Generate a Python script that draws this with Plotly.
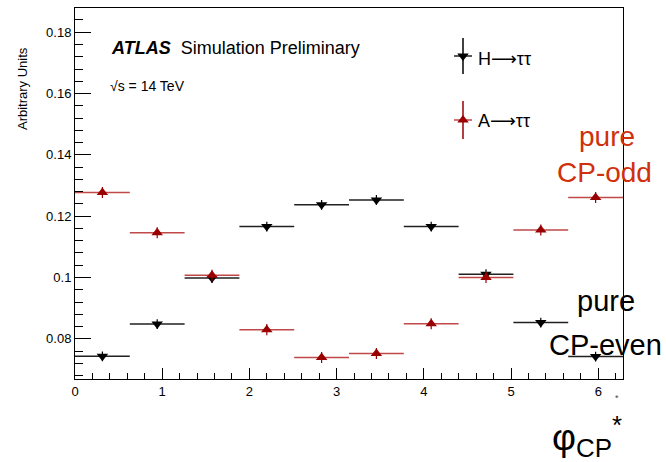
import math
import plotly.graph_objects as go

# phi*_CP binning: 10 equal bins over [0, 2*pi]
n_bins = 10
bin_width = 2 * math.pi / n_bins
bin_centers = [(i + 0.5) * bin_width for i in range(n_bins)]
half_widths = [bin_width / 2] * n_bins

# Normalised distributions (arbitrary units)
h_tautau = [0.0743, 0.0848, 0.0998, 0.1166, 0.1237, 0.1253, 0.1166, 0.1011, 0.0853, 0.0742]
a_tautau = [0.1277, 0.1146, 0.1007, 0.0830, 0.0739, 0.0752, 0.0849, 0.1000, 0.1155, 0.1261]
h_err = [0.0016] * n_bins
a_err = [0.0018] * n_bins

x_ticks = [0, 1, 2, 3, 4, 5, 6]
y_ticks = [0.08, 0.10, 0.12, 0.14, 0.16, 0.18]
y_tick_text = ["0.08", "0.1", "0.12", "0.14", "0.16", "0.18"]

FONT = "Liberation Sans, Arial, Helvetica, sans-serif"
ARROW = '<span style="font-family:DejaVu Sans">\u27f6</span>'
BLACK = "#000000"
DARK_RED = "#9a0000"
LINE_RED = "#c04848"
TEXT_RED = "#d0300c"

W, H = 666, 462
L, R, T, B = 75, 623, 8, 379  # plot frame in pixels


def px(x):
    return (x - L) / (R - L)


def py(y):
    return (B - y) / (B - T)


fig = go.Figure()

fig.add_trace(go.Scatter(
    x=bin_centers, y=h_tautau, mode="markers",
    marker=dict(symbol="triangle-down", size=10, color=BLACK),
    error_x=dict(type="data", array=half_widths, width=0, thickness=1.5, color="#202020"),
    error_y=dict(type="data", array=h_err, width=0, thickness=1.2, color=BLACK),
    showlegend=False,
))
fig.add_trace(go.Scatter(
    x=bin_centers, y=a_tautau, mode="markers",
    marker=dict(symbol="triangle-up", size=10, color=DARK_RED),
    error_x=dict(type="data", array=half_widths, width=0, thickness=1.5, color=LINE_RED),
    error_y=dict(type="data", array=a_err, width=0, thickness=1.2, color=DARK_RED),
    showlegend=False,
))

# Legend entries drawn on a pixel-scaled overlay
legend_x = [463, 463]
legend_y = [56, 120]
fig.add_trace(go.Scatter(
    x=[legend_x[0]], y=[legend_y[0]], xaxis="x2", yaxis="y2", mode="markers",
    marker=dict(symbol="triangle-down", size=10, color=BLACK),
    error_x=dict(type="constant", value=9, width=0, thickness=1.5, color="#202020"),
    error_y=dict(type="constant", value=18, width=0, thickness=1.5, color=BLACK),
    showlegend=False, hoverinfo="skip",
))
fig.add_trace(go.Scatter(
    x=[legend_x[1]], y=[legend_y[1]], xaxis="x2", yaxis="y2", mode="markers",
    marker=dict(symbol="triangle-up", size=10, color=DARK_RED),
    error_x=dict(type="constant", value=9, width=0, thickness=1.5, color=LINE_RED),
    error_y=dict(type="constant", value=19, width=0, thickness=1.5, color=DARK_RED),
    showlegend=False, hoverinfo="skip",
))

annotations = [
    dict(x=px(109), y=py(48), text="<b><i>ATLAS</i></b>  Simulation Preliminary",
         font=dict(size=18, color=BLACK), xanchor="left", yanchor="middle"),
    dict(x=px(108), y=py(86), text="\u221as = 14 TeV",
         font=dict(size=14, color=BLACK), xanchor="left", yanchor="middle"),
    dict(x=px(476), y=py(58), text="H" + ARROW + "\u03c4\u03c4",
         font=dict(size=18, color=BLACK), xanchor="left", yanchor="middle"),
    dict(x=px(476), y=py(121), text="A" + ARROW + "\u03c4\u03c4",
         font=dict(size=18, color=BLACK), xanchor="left", yanchor="middle"),
    dict(x=px(607), y=py(136), text="pure",
         font=dict(size=28, color=TEXT_RED), xanchor="center", yanchor="middle"),
    dict(x=px(604), y=py(172), text="CP-odd",
         font=dict(size=28, color=TEXT_RED), xanchor="center", yanchor="middle"),
    dict(x=px(606), y=py(301), text="pure",
         font=dict(size=29, color=BLACK), xanchor="center", yanchor="middle"),
    dict(x=px(605), y=py(345), text="CP-even",
         font=dict(size=29, color=BLACK), xanchor="center", yanchor="middle"),
    dict(x=px(22), y=py(88), text="Arbitrary Units", textangle=-90,
         font=dict(size=13, color=BLACK), xanchor="center", yanchor="middle"),
    dict(x=px(550), y=py(436), text="\u03c6<sub>CP</sub><sup>*</sup>",
         font=dict(size=37, color=BLACK), xanchor="left", yanchor="middle"),
    dict(x=px(617), y=py(398), text="*",
         font=dict(size=9, color="#444444"), xanchor="center", yanchor="middle"),
]
for a in annotations:
    a.update(xref="paper", yref="paper", showarrow=False, font_family=FONT)

fig.update_layout(
    width=W, height=H,
    margin=dict(l=L, r=W - R, t=T, b=H - B, pad=0),
    paper_bgcolor="white", plot_bgcolor="white",
    font=dict(family=FONT, color=BLACK),
    showlegend=False,
    annotations=annotations,
    xaxis=dict(
        range=[0, 2 * math.pi], tickvals=x_ticks, ticktext=[str(v) for v in x_ticks],
        ticks="inside", ticklen=11, tickwidth=1, tickcolor=BLACK,
        minor=dict(dtick=0.2, ticks="inside", ticklen=6, tickcolor=BLACK, tick0=0),
        showline=True, linecolor=BLACK, linewidth=1, mirror=True,
        showgrid=False, zeroline=False, tickfont=dict(size=13),
    ),
    yaxis=dict(
        range=[0.0669, 0.1879], tickvals=y_ticks, ticktext=y_tick_text,
        ticks="inside", ticklen=16, tickwidth=1, tickcolor=BLACK,
        minor=dict(dtick=0.004, tick0=0.08, ticks="inside", ticklen=8, tickcolor=BLACK),
        showline=True, linecolor=BLACK, linewidth=1, mirror=True,
        showgrid=False, zeroline=False, tickfont=dict(size=13),
    ),
    xaxis2=dict(range=[L, R], overlaying="x", visible=False, fixedrange=True),
    yaxis2=dict(range=[B, T], overlaying="y", visible=False, fixedrange=True),
)

fig.write_html("out.html")
